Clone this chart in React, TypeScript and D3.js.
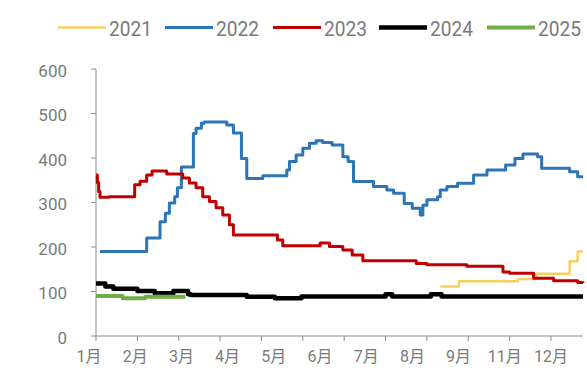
import React from 'react';
import * as d3 from 'd3';

type Pt = [number, number];

const years = ['2021', '2022', '2023', '2024', '2025'];
const colors = ['#F5CF63', '#2E75B6', '#C00000', '#000000', '#70AD47'];
const strokeWidths = [2.5, 3, 3, 4.5, 4];

const monthLabels = ['1月', '2月', '3月', '4月', '5月', '6月', '7月', '8月', '9月', '11月', '12月'];
const monthTickDays = [0, 31, 62, 93, 124, 155, 186, 217, 248, 279, 310, 341];
const yTicks = [0, 100, 200, 300, 400, 500, 600];

// [day of year, value]
const s2021: Pt[] = [[258, 111], [272, 123], [316, 128], [330, 140], [355, 168], [361, 190], [365, 190]];
const s2022: Pt[] = [
  [3, 190], [38, 220], [48, 257], [52, 276], [55, 299], [59, 313], [61, 333], [64, 380],
  [73, 455], [75, 467], [79, 478], [81, 481], [98, 474], [103, 456], [109, 399], [113, 354],
  [125, 360], [143, 373], [145, 392], [150, 407], [155, 422], [160, 433], [165, 439], [170, 435],
  [177, 429], [185, 403], [189, 392], [193, 347], [208, 336], [218, 328], [223, 321], [231, 298],
  [237, 287], [243, 272], [245, 294], [248, 306], [256, 313], [258, 328], [263, 336], [271, 343],
  [283, 362], [293, 373], [307, 384], [314, 399], [320, 409], [331, 403], [334, 377], [355, 369],
  [361, 358], [365, 358],
];
const s2023: Pt[] = [
  [0, 362], [1, 345], [2, 325], [3, 312], [10, 313], [27, 313], [29, 340], [33, 348], [38, 362],
  [42, 371], [53, 364], [63, 364], [65, 355], [70, 344], [75, 333], [80, 313], [85, 302], [90, 288],
  [95, 272], [100, 250], [103, 227], [136, 216], [140, 203], [168, 209], [175, 201], [185, 193],
  [192, 182], [200, 169], [240, 163], [248, 160], [278, 157], [305, 144], [310, 141], [328, 130],
  [343, 124], [361, 120], [365, 119],
];
const s2024: Pt[] = [
  [0, 118], [7, 111], [13, 106], [31, 101], [44, 96], [58, 101], [69, 94], [71, 92], [113, 88],
  [134, 85], [154, 89], [217, 94], [222, 89], [251, 94], [259, 89], [365, 89],
];
const s2025: Pt[] = [[0, 90], [20, 85], [37, 88], [67, 88]];

const seriesData = [s2021, s2022, s2023, s2024, s2025];

const W = 587;
const H = 374;
const X0 = 96;
const X1 = 583;
const Y0 = 336;
const Y1 = 69;
const axisColor = '#8c8c8c';
const textColor = '#7a7a7a';
const legendX = [58, 165, 273, 379, 487];

export default function App() {
  const x = d3.scaleLinear().domain([0, 365]).range([X0, X1]);
  const y = d3.scaleLinear().domain([0, 600]).range([Y0, Y1]);
  const labelX = d3.scalePoint<string>().domain(monthLabels).range([89, 551]);
  const line = d3
    .line<Pt>()
    .x((d) => x(d[0]))
    .y((d) => y(d[1]))
    .curve(d3.curveStepAfter);

  return (
    <svg
      width={W}
      height={H}
      style={{ position: 'absolute', left: 0, top: 0, background: '#fff' }}
      fontFamily="Roboto, 'Noto Sans CJK SC', sans-serif"
    >
      {/* legend */}
      {years.map((yr, i) => (
        <g key={yr}>
          <line
            x1={legendX[i]}
            x2={legendX[i] + 48}
            y1={27.5}
            y2={27.5}
            stroke={colors[i]}
            strokeWidth={strokeWidths[i]}
          />
          <text
            x={legendX[i] + 51}
            y={35.5}
            fontSize={21}
            fill={textColor}
            textLength={43}
            lengthAdjust="spacingAndGlyphs"
          >
            {yr}
          </text>
        </g>
      ))}

      {/* y axis */}
      <line x1={X0} x2={X0} y1={Y1} y2={Y0} stroke={axisColor} strokeWidth={1} />
      {yTicks.map((t) => (
        <g key={t}>
          <line x1={X0 - 5} x2={X0} y1={y(t)} y2={y(t)} stroke={axisColor} strokeWidth={1} />
          <text x={67} y={y(t) + 7.5} fontSize={17} fill={textColor} textAnchor="end">
            {t}
          </text>
        </g>
      ))}

      {/* x axis */}
      <line x1={X0} x2={X1} y1={Y0} y2={Y0} stroke={axisColor} strokeWidth={1} />
      {monthTickDays.map((d) => (
        <line key={d} x1={x(d)} x2={x(d)} y1={Y0} y2={Y0 + 5} stroke={axisColor} strokeWidth={1} />
      ))}
      {monthLabels.map((m) => (
        <text key={m} x={labelX(m)} y={362} fontSize={16} fill={textColor} textAnchor="middle">
          {m}
        </text>
      ))}

      {/* series */}
      {seriesData.map((s, i) => (
        <path
          key={years[i]}
          d={line(s) || ''}
          fill="none"
          stroke={colors[i]}
          strokeWidth={strokeWidths[i]}
          strokeLinejoin="round"
        />
      ))}
    </svg>
  );
}
